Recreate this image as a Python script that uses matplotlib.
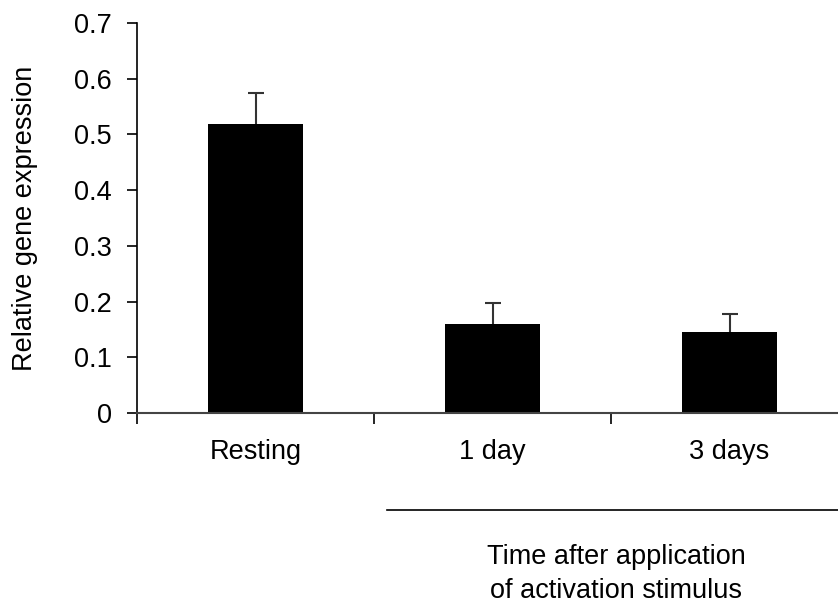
import matplotlib
matplotlib.use("Agg")
import matplotlib.pyplot as plt
import numpy as np

plt.rcParams['font.family'] = ['Liberation Sans', 'DejaVu Sans']

categories = ['Resting', '1 day', '3 days']
expression = [0.519, 0.160, 0.146]
sem = [0.055, 0.038, 0.031]
yticks = [0, 0.1, 0.2, 0.3, 0.4, 0.5, 0.6, 0.7]

FS = 19.5
W, H = 838, 603
fig = plt.figure(figsize=(W / 100, H / 100), dpi=100)
# axes runs past the right edge so the last category boundary is cut off
ax = fig.add_axes([137 / W, 1 - 413 / H, (848 - 137) / W, (413 - 23) / H])

x = np.arange(len(categories))
ax.bar(x, expression, width=0.4, color='black', zorder=2)
ax.errorbar(x, expression, yerr=sem, fmt='none',
            ecolor='#333333', elinewidth=1.5, capsize=6, capthick=1.5, zorder=1)

ax.set_xlim(-0.5, 2.5)
ax.set_ylim(0, 0.7)
ax.set_yticks(yticks)
ax.set_yticklabels(['0'] + ['%.1f' % v for v in yticks[1:]], fontsize=FS)
ax.set_xticks(x)
ax.set_xticklabels(categories, fontsize=FS)
ax.set_xticks(np.arange(-0.5, 3, 1), minor=True)
ax.tick_params(axis='x', which='major', length=0, pad=19)
ax.tick_params(axis='x', which='minor', length=8, width=1.2, direction='out')
ax.tick_params(axis='y', length=7, width=1.2, direction='out', pad=11)

for side in ('top', 'right'):
    ax.spines[side].set_visible(False)
ax.spines['left'].set_linewidth(1.2)
ax.spines['bottom'].set_linewidth(1.5)
ax.spines['bottom'].set_color('#444444')

ax.set_ylabel('Relative gene expression', fontsize=FS, labelpad=26)

# bracket under the activated time points
fig.add_artist(plt.Line2D([387 / W, 1.0], [1 - 510 / H, 1 - 510 / H],
                          color='black', lw=1.2))
fig.text(616 / W, 1 - 574 / H, 'Time after application\nof activation stimulus',
         ha='center', va='center', fontsize=FS, linespacing=1.4)

fig.savefig('out.png', dpi=100)
